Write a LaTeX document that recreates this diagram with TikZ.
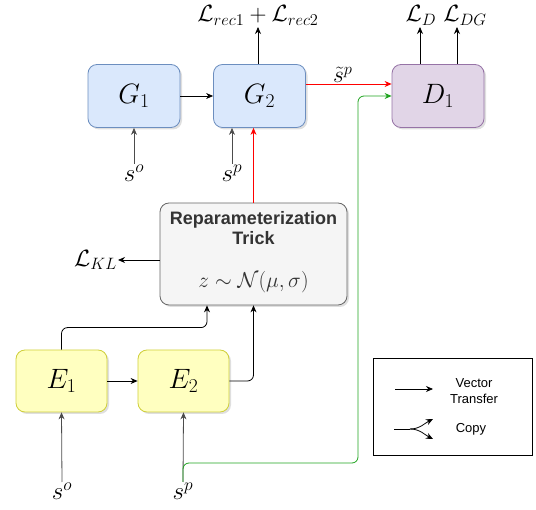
\documentclass[tikz,border=0pt]{standalone}
\usepackage{fix-cm}
\usepackage{fontspec}
\setsansfont{Liberation Sans}
\usepackage{amsmath}
\usetikzlibrary{arrows.meta, shadows}
\definecolor{genfill}{HTML}{DAE8FC}
\definecolor{gendraw}{HTML}{6C8EBF}
\definecolor{disfill}{HTML}{E1D5E7}
\definecolor{disdraw}{HTML}{9673A6}
\definecolor{encfill}{HTML}{FFFFC0}
\definecolor{encdraw}{HTML}{CFCF3A}
\definecolor{trickfill}{HTML}{F5F5F5}
\definecolor{trickdraw}{HTML}{666666}
\definecolor{tricktext}{HTML}{333333}
\definecolor{copygreen}{HTML}{1FA31F}
\tikzset{
  block/.style={rectangle, rounded corners=9pt, minimum width=92pt,
                minimum height=63pt, inner sep=0pt, line width=0.8pt,
                font=\fontsize{28}{30}\selectfont,
                drop shadow={opacity=0.25, shadow xshift=2pt, shadow yshift=-2pt}},
  genblock/.style={block, fill=genfill, draw=gendraw},
  disblock/.style={block, fill=disfill, draw=disdraw},
  encblock/.style={block, fill=encfill, draw=encdraw, minimum width=91pt, minimum height=62pt},
  trickblock/.style={block, fill=trickfill, draw=trickdraw, minimum width=187pt,
                     minimum height=102pt},
  arrow/.style={-{Stealth[length=7pt, width=6pt]}, line width=0.8pt, color=black},
  inarrow/.style={arrow, color=black!70},
  redarrow/.style={arrow, color=red},
  greenarrow/.style={arrow, color=copygreen, rounded corners=6pt},
  loss/.style={font=\fontsize{23.5}{25}\selectfont, inner sep=1pt, color=black},
  sig/.style={font=\fontsize{25}{27}\selectfont, inner sep=1pt, anchor=north},
  legendtext/.style={font=\sffamily\fontsize{13}{16}\selectfont, align=center},
}
\begin{document}
\begin{tikzpicture}[x=1pt, y=-1pt]
  \useasboundingbox (0,0) rectangle (536,510);

  % Top row: generators and discriminator
  \node[genblock] (G1) at (134,96) {$G_1$};
  \node[genblock] (G2) at (259.5,96) {$G_2$};
  \node[disblock] (D1) at (438,96) {$D_1$};
  \draw[arrow] (G1.east) -- (G2.west);

  % Losses on top
  \node[loss, anchor=base] (Lrec) at (258,22) {$\mathcal{L}_{rec1}+\mathcal{L}_{rec2}$};
  \node[loss, anchor=base] (LD) at (421,22) {$\mathcal{L}_D$};
  \node[loss, anchor=base] (LDG) at (465,22) {$\mathcal{L}_{DG}$};
  \draw[arrow] (Lrec.base |- G2.north) -- ([yshift=-5pt]Lrec.base);
  \draw[arrow] (420,64) -- (420,27);
  \draw[arrow] (457,64) -- (457,27);

  % Inputs of the generators
  \node[sig] (soG) at (134,164) {$s^o$};
  \node[sig] (spG) at (232,164) {$s^p$};
  \draw[inarrow] (soG.north) -- (soG.north |- G1.south);
  \draw[inarrow] (spG.north) -- (spG.north |- G2.south);

  % Fake sample to discriminator
  \draw[redarrow] ([yshift=12pt]G2.east) -- node[above, loss, xshift=-6pt]{$\tilde{s}^p$} ([yshift=12pt]D1.west);

  % Reparameterization
  \node[trickblock] (RT) at (253.5,254) {};
  \node[font=\sffamily\bfseries\fontsize{18}{20}\selectfont, color=tricktext, align=center]
    (rtTitle) at (253.5,228) {Reparameterization\\Trick};
  \node[font=\fontsize{21.5}{24}\selectfont, color=tricktext] (rtForm) at (253.5,282)
    {$z\sim\mathcal{N}(\mu,\sigma)$};
  \draw[redarrow] (RT.north) -- (RT.north |- G2.south);
  \node[loss, anchor=east] (LKL) at (118,260) {$\mathcal{L}_{KL}$};
  \draw[arrow] (RT.west |- LKL.east) -- (LKL.east);

  % Encoders
  \node[encblock] (E1) at (61.5,381) {$E_1$};
  \node[encblock] (E2) at (183.5,381) {$E_2$};
  \draw[arrow] (E1.east) -- (E2.west);
  \draw[arrow, rounded corners=6pt] (E1.north) -- ++(0,-22) -| ([xshift=-46.5pt]RT.south);
  \draw[arrow, rounded corners=6pt] (E2.east) -| (RT.south);

  % Inputs of the encoders
  \node[sig] (soE) at (62,482) {$s^o$};
  \node[sig] (spE) at (183,482) {$s^p$};
  \draw[inarrow] (soE.north) -- (E1.south);
  \draw[inarrow] (spE.north) -- (E2.south);
  \draw[greenarrow] (spE.north) |- (358,463) |- (D1.west);

  % Legend
  \node[draw, line width=0.8pt, minimum width=159pt, minimum height=97pt] (legend) at (452.5,406.5) {};
  \coordinate (vecA) at (395,389);
  \coordinate (vecB) at (433,389);
  \draw[arrow] (vecA) -- (vecB);
  \node[legendtext] (vecText) at (474,391) {Vector\\Transfer};
  \coordinate (cpA) at (394,429);
  \coordinate (cpB) at (410,429);
  \coordinate (cpUp) at (433,419);
  \coordinate (cpDown) at (433,439);
  \draw[line width=0.8pt] (cpA) -- (cpB);
  \draw[arrow] (cpB) .. controls +(10,0) and +(-8,4) .. (cpUp);
  \draw[arrow] (cpB) .. controls +(10,0) and +(-8,-4) .. (cpDown);
  \node[legendtext] (cpText) at (471,429) {Copy};
\end{tikzpicture}
\end{document}
